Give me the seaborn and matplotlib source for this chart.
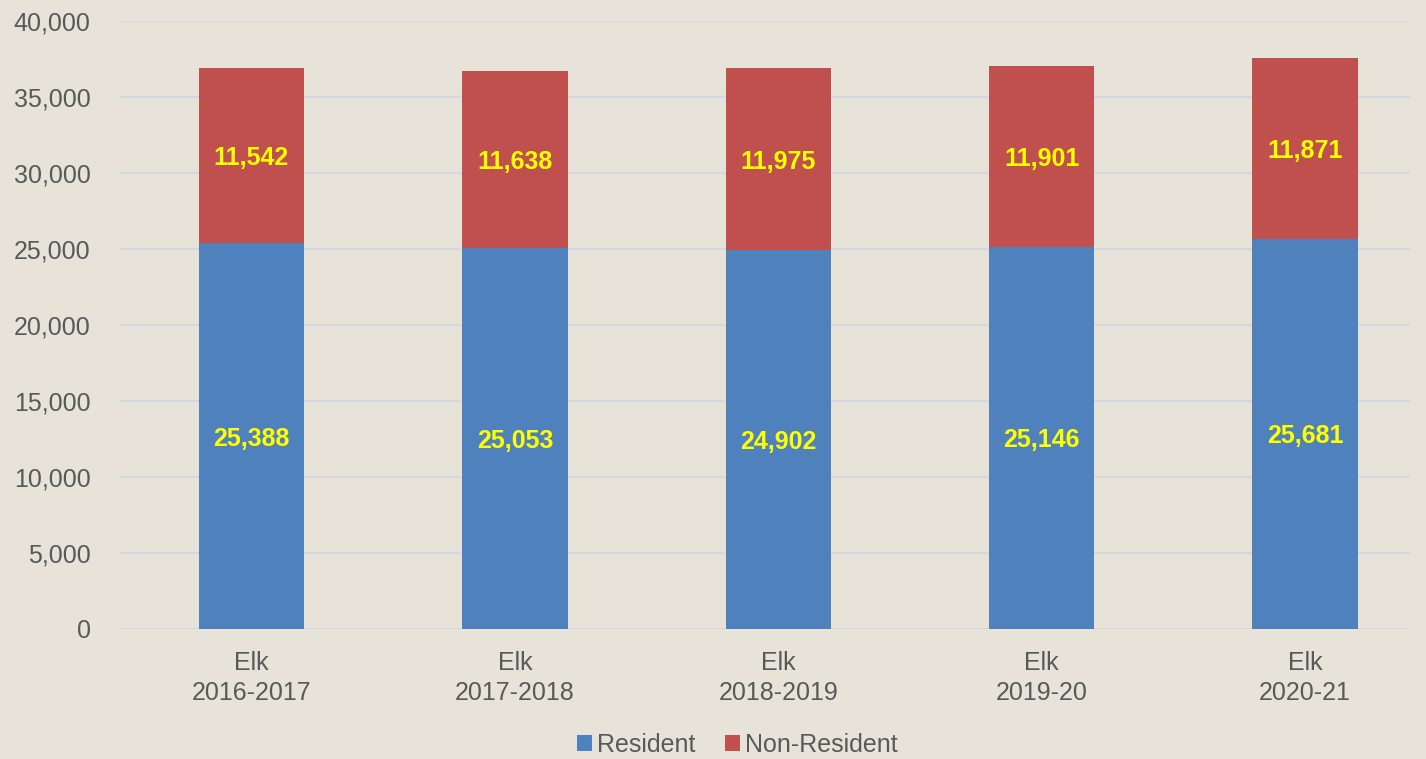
import numpy as np
import pandas as pd
import matplotlib
matplotlib.use("Agg")
import matplotlib.pyplot as plt
import seaborn as sns
from matplotlib.patches import Patch

seasons = ["Elk\n2016-2017", "Elk\n2017-2018", "Elk\n2018-2019", "Elk\n2019-20", "Elk\n2020-21"]
resident = [25388, 25053, 24902, 25146, 25681]
non_resident = [11542, 11638, 11975, 11901, 11871]

df = pd.DataFrame({"season": seasons, "Resident": resident, "Non-Resident": non_resident})
df["Total"] = df["Resident"] + df["Non-Resident"]

sns.set_theme(style="white")
plt.rcParams["font.family"] = ["Liberation Sans", "DejaVu Sans"]

bg = "#E7E3D9"
blue = "#4F81BD"
red = "#C0504D"
grey = "#595959"

fig = plt.figure(figsize=(14.26, 7.59), dpi=100, facecolor=bg)
ax = fig.add_axes([0.084, 0.1713, 0.905, 0.801])
ax.set_facecolor(bg)

# stacked: draw totals in red, then residents in blue on top
sns.barplot(data=df, x="season", y="Total", color=red, width=0.4, saturation=1, ax=ax,
            zorder=3, edgecolor="none", linewidth=0)
sns.barplot(data=df, x="season", y="Resident", color=blue, width=0.4, saturation=1, ax=ax,
            zorder=3, edgecolor="none", linewidth=0)

for i, row in df.iterrows():
    ax.text(i, row["Resident"] / 2, f"{row['Resident']:,}", ha="center", va="center_baseline",
            color="#FFFF00", fontsize=18, fontweight="bold", zorder=4)
    ax.text(i, row["Resident"] + row["Non-Resident"] / 2, f"{row['Non-Resident']:,}",
            ha="center", va="center_baseline", color="#FFFF00", fontsize=18, fontweight="bold", zorder=4)

ax.set_ylim(0, 40000)
ax.set_xlim(-0.5, 4.4)
ax.set_yticks(np.arange(0, 40001, 5000))
ax.set_yticklabels([f"{v:,}" for v in range(0, 40001, 5000)])
ax.yaxis.grid(True, color="#D5D7DF", linewidth=1.5, zorder=0)
ax.set_axisbelow(True)
for s in ax.spines.values():
    s.set_visible(False)
ax.tick_params(axis="both", length=0, labelsize=18, labelcolor=grey)
ax.tick_params(axis="y", pad=21)
ax.tick_params(axis="x", pad=16)
for t in ax.get_xticklabels():
    t.set_linespacing(1.3)
ax.set_xlabel("")
ax.set_ylabel("")

handles = [Patch(facecolor=blue, edgecolor="none", label="Resident"),
           Patch(facecolor=red, edgecolor="none", label="Non-Resident")]
leg = fig.legend(handles=handles, loc="lower center", bbox_to_anchor=(0.517, -0.027), ncol=2,
                 frameon=False, fontsize=18, handlelength=0.6, handleheight=0.6,
                 handletextpad=0.2, columnspacing=1.2)
for t in leg.get_texts():
    t.set_color(grey)

fig.savefig("out.png", dpi=100, facecolor=bg)
